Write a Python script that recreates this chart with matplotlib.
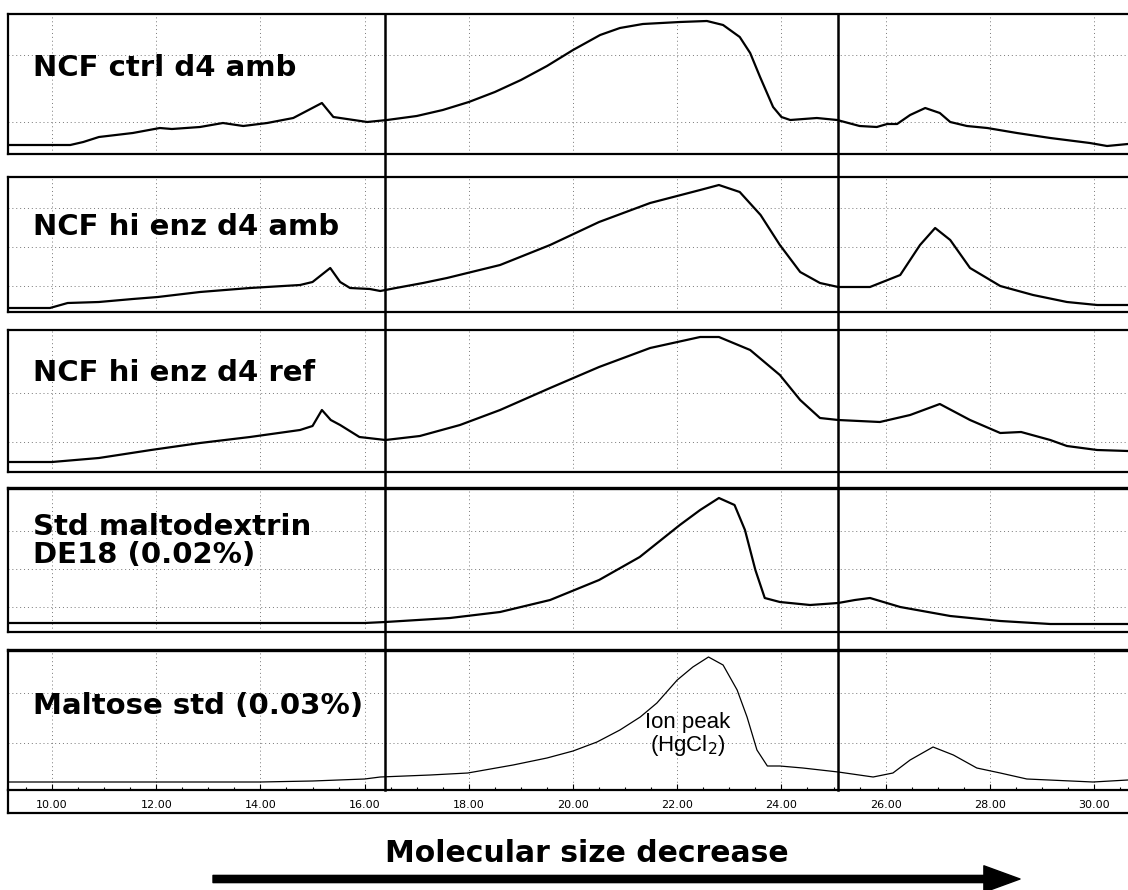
import matplotlib
matplotlib.use("Agg")
import matplotlib.pyplot as plt
from matplotlib.patches import FancyArrowPatch, ArrowStyle
from matplotlib.transforms import blended_transform_factory
from matplotlib.lines import Line2D

plt.rcParams["font.family"] = ["DejaVu Sans"]

# retention time (min) / detector response (arbitrary units)
ctrl_amb_t = [9.16, 10.0, 10.35, 10.6, 10.9, 11.55, 12.07, 12.3, 12.84, 13.28, 13.67, 14.13, 14.63,
              15.18, 15.4, 15.53, 16.05, 16.43, 17.0, 17.5, 18.0, 18.5, 19.0, 19.5, 20.0, 20.52,
              20.9, 21.34, 22.05, 22.57, 22.88, 23.2, 23.4, 23.59, 23.84, 24.0, 24.17, 24.68,
              25.07, 25.5, 25.83, 26.03, 26.22, 26.47, 26.76, 27.04, 27.24, 27.56, 27.95, 28.52,
              29.16, 29.92, 30.25, 30.65]
ctrl_amb_y = [9, 9, 9, 12, 17, 21, 26, 25, 27, 31, 28, 31, 36,
              51, 37, 36, 32, 34, 38, 44, 52, 62, 74, 88, 104, 119,
              126, 130, 132, 133, 129, 117, 101, 77, 47, 37, 34, 36,
              34, 28, 27, 30, 30, 39, 46, 41, 32, 28, 26, 21,
              16, 11, 8, 10]

hi_amb_t = [9.16, 9.96, 10.3, 10.9, 11.55, 12.03, 12.84, 13.8, 14.76, 15.0, 15.34, 15.53, 15.72,
            16.1, 16.3, 16.6, 17.12, 17.58, 18.6, 19.56, 20.5, 21.48, 22.44, 22.8, 23.2, 23.6,
            23.97, 24.36, 24.74, 25.09, 25.7, 26.28, 26.66, 26.95, 27.24, 27.62, 28.2, 28.83,
            29.48, 30.06, 30.65]
hi_amb_y = [4, 4, 9, 10, 13, 15, 20, 24, 27, 30, 44, 30, 24,
            23, 21, 24, 29, 34, 47, 67, 90, 109, 122, 127, 120, 97,
            67, 40, 29, 25, 25, 37, 67, 84, 72, 44, 26, 17,
            10, 7, 7]

hi_ref_t = [9.16, 10.0, 10.9, 11.9, 12.84, 13.8, 14.76, 15.0, 15.18, 15.35, 15.53, 15.9, 16.4,
            17.06, 17.83, 18.6, 19.56, 20.5, 21.48, 22.44, 22.8, 23.4, 23.97, 24.36, 24.74,
            25.09, 25.89, 26.47, 27.04, 27.62, 28.2, 28.6, 29.16, 29.48, 30.06, 30.65]
hi_ref_y = [10, 10, 14, 22, 29, 35, 42, 46, 62, 52, 47, 35, 32,
            36, 47, 62, 84, 105, 124, 135, 135, 122, 97, 72, 54,
            52, 50, 57, 68, 52, 39, 40, 32, 26, 22, 21]

malto_t = [9.16, 10.0, 12.0, 14.0, 16.0, 16.4, 17.64, 18.6, 19.56, 20.5, 21.28, 22.05, 22.44,
           22.8, 23.1, 23.3, 23.5, 23.68, 23.97, 24.55, 25.09, 25.41, 25.7, 26.28, 27.24,
           28.2, 29.16, 30.65]
malto_y = [9, 9, 9, 9, 9, 10, 14, 20, 32, 52, 75, 107, 122,
           134, 127, 102, 62, 34, 30, 27, 29, 32, 34, 25, 16,
           11, 8, 8]

maltose_t = [9.16, 10.0, 12.0, 14.0, 15.0, 16.0, 16.3, 17.26, 17.98, 18.85, 19.5, 20.0, 20.46,
             20.9, 21.29, 21.61, 22.0, 22.3, 22.6, 22.88, 23.15, 23.34, 23.53, 23.73, 23.97,
             24.41, 25.09, 25.76, 26.14, 26.47, 26.91, 27.3, 27.75, 28.2, 28.71, 29.98, 30.65]
maltose_y = [8, 8, 8, 8, 9, 11, 13, 15, 17, 25, 32, 39, 48,
             60, 73, 87, 110, 123, 133, 125, 100, 73, 40, 24, 24,
             22, 18, 13, 17, 30, 43, 35, 22, 17, 11, 8, 10]

sample_labels = [["NCF ctrl d4 amb"], ["NCF hi enz d4 amb"], ["NCF hi enz d4 ref"],
                 ["Std maltodextrin", "DE18 (0.02%)"], ["Maltose std (0.03%)"]]
traces = [(ctrl_amb_t, ctrl_amb_y), (hi_amb_t, hi_amb_y), (hi_ref_t, hi_ref_y),
          (malto_t, malto_y), (maltose_t, maltose_y)]
marker_times = [16.39, 25.09]

W, H = 1128, 890
fig = plt.figure(figsize=(W / 100, H / 100), dpi=100)

# panel frames in pixels: (top, bottom), plus the horizontal grid heights
panels = [(14, 154), (177, 312), (330, 472), (488, 632), (650, 790)]
hgrid = [[32, 99], [26, 65, 104], [30, 79], [25, 63, 101], [47, 97]]
label_base = [[76], [235], [381], [535, 563], [714]]
line_w = [1.6, 1.6, 1.6, 1.6, 0.9]
x_left, x_right = 9.155, 30.652

axes = []
for i, ((top, bot), (t, y)) in enumerate(zip(panels, traces)):
    ax = fig.add_axes([8 / W, 1 - bot / H, 1 - 8 / W, (bot - top) / H])
    ax.plot(t, y, color="black", lw=line_w[i], solid_joinstyle="round")
    ax.set_xlim(x_left, x_right)
    ax.set_ylim(0, bot - top)
    ax.set_xticks(range(10, 31, 2))
    ax.set_xticks([v / 2 for v in range(19, 62)], minor=True)
    ax.set_yticks(hgrid[i])
    ax.grid(True, which="major", color="#777777", lw=0.7, ls=(0, (1, 3)))
    ax.tick_params(axis="y", length=0, labelleft=False)
    for s in ["top", "bottom", "left"]:
        ax.spines[s].set_linewidth(1.6)
    ax.spines["right"].set_visible(False)
    if i in (3, 4):
        ax.spines["top"].set_linewidth(2.4)
    if i < 4:
        ax.tick_params(axis="x", which="both", length=0, labelbottom=False)
    else:
        ax.tick_params(axis="x", which="major", direction="in", length=4, width=0.8,
                       labelsize=8, pad=7)
        ax.tick_params(axis="x", which="minor", direction="in", length=2.5, width=0.8)
        ax.set_xticklabels([f"{v:.2f}" for v in range(10, 31, 2)])
    for line, base in zip(sample_labels[i], label_base[i]):
        ax.text(25 / (W - 8), (bot - base) / (bot - top), line, transform=ax.transAxes,
                fontsize=21, fontweight="bold", va="baseline", ha="left")
    axes.append(ax)

# annotation in the maltose panel
axes[4].text(22.2, 55, "Ion peak\n(HgCl$_2$)", fontsize=16, ha="center", va="center",
             linespacing=0.95, family="Liberation Sans")

# long vertical marker lines across all panels
tr = blended_transform_factory(axes[0].transData, fig.transFigure)
for m in marker_times:
    fig.add_artist(Line2D([m, m], [1 - 14 / H, 1 - 790 / H], transform=tr, color="black", lw=1.8))

# outer frame around the time labels
fig.add_artist(Line2D([8 / W, 1], [1 - 813 / H, 1 - 813 / H], transform=fig.transFigure,
                      color="black", lw=1.6))
fig.add_artist(Line2D([8 / W, 8 / W], [1 - 790 / H, 1 - 813 / H], transform=fig.transFigure,
                      color="black", lw=1.6))

# arrow and caption
fig.text(587 / W, 1 - 854 / H, "Molecular size decrease", fontsize=21.5, fontweight="bold",
         ha="center", va="center")
arrow = FancyArrowPatch((213 / W, 1 - 879 / H), (1020 / W, 1 - 879 / H), transform=fig.transFigure,
                        arrowstyle=ArrowStyle.Simple(head_length=1.3, head_width=0.95, tail_width=0.26),
                        mutation_scale=20, color="black", shrinkA=0, shrinkB=0)
fig.add_artist(arrow)

fig.savefig("out.png", dpi=100)
